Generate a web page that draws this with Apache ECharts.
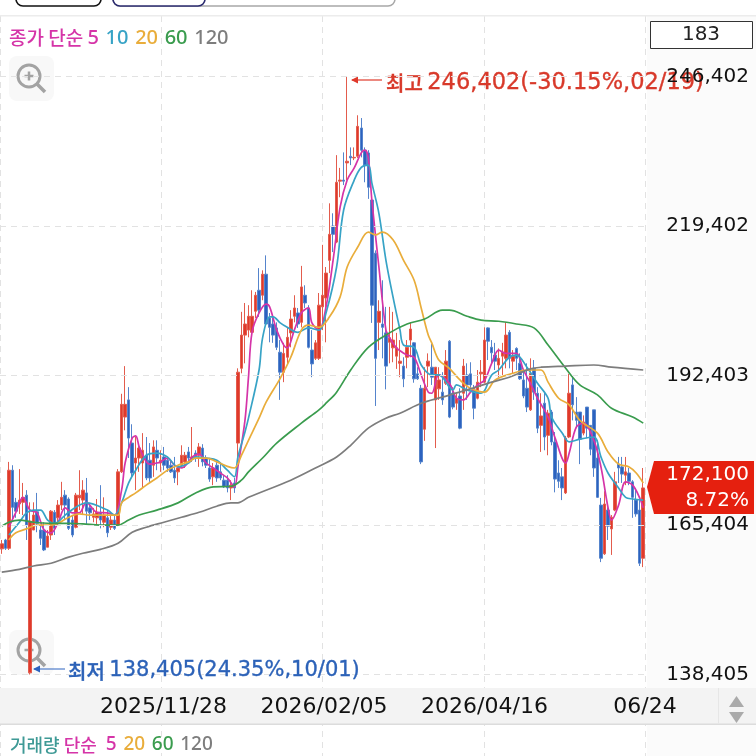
<!DOCTYPE html>
<html><head><meta charset="utf-8">
<style>html,body{margin:0;padding:0;background:#fff}#c{width:756px;height:756px}</style>
<script src="https://cdn.jsdelivr.net/npm/echarts@6/dist/echarts.min.js"></script>
</head><body><div id="c"></div>
<script>
const opens=[161100,162700,161200,175300,169500,169200,169500,170800,138700,164500,167800,164500,164500,161400,163600,167700,166700,169000,170800,170100,166300,165000,170300,169900,171200,168500,166800,166700,167700,165900,166700,165000,166300,165400,175000,184900,188000,180200,176600,177500,176600,178000,177100,176200,178900,176600,177700,177100,176200,175300,175000,176200,176800,178600,177300,178400,178000,179300,177500,175700,174100,176200,175000,173500,173500,172100,173000,180200,193700,199700,200600,200200,204000,207800,206900,210700,202800,201700,201000,196600,193000,195700,200100,203100,203700,202000,206900,204600,197000,195500,195500,204800,206400,213200,219400,216500,227500,227700,230800,232000,231700,232000,237100,233100,232600,224100,214500,202000,201700,200100,198400,197400,195900,194600,194100,195700,198800,198300,192700,190100,182700,194100,193900,188000,190000,189400,191000,198600,189200,187400,188700,189200,192500,192700,189800,188300,192700,191200,201000,197500,196100,194300,195900,195500,200200,195000,197300,194600,191600,190100,186200,193700,189200,183400,187400,181600,185800,180400,174800,174100,171200,181300,190700,185800,185800,182000,186700,183400,186200,177500,169000,160200,168100,164700,168100,176400,175900,174400,174800,173200,169900,168100,159400];
const closes=[162000,161200,175300,168600,167900,169900,170400,165400,166100,167200,165700,163000,160900,163400,167900,164800,169000,170400,169000,164800,163600,170800,170800,171700,167900,167600,167400,167700,166300,167200,164000,166300,164800,175000,187200,187200,181100,174800,177500,179300,178900,173900,173900,179500,177500,177100,176200,175700,175000,173900,175700,178000,178000,177500,177700,177700,179500,176800,176200,173700,175700,173900,173900,172300,172100,172600,172100,193000,199700,201700,203100,203100,206900,204200,210700,201700,201100,199700,197500,193000,196400,199300,202600,204600,201700,208400,205500,197500,194500,198300,205100,206900,210900,217900,217900,227300,227700,227500,231100,231700,231800,237400,233100,230400,226400,205100,195500,204000,201100,194100,199200,198800,197400,195000,191800,197500,200800,191800,191800,176800,190100,195000,192100,193900,191600,188000,195000,184900,186700,188300,182900,194100,190700,190700,186500,191200,193000,198800,198600,196500,195000,195500,196600,199700,195500,195900,195500,191800,188700,186700,192800,189400,182900,185100,181300,185600,180400,173700,173300,172100,181100,189200,187100,184300,180900,184000,182900,179100,175700,170400,159400,169200,165200,166800,173200,175700,174600,175000,173300,170400,167400,158500,172100];
const lows=[160200,160900,160900,166300,166700,167400,167200,162700,138405,164500,164100,161800,160700,161400,162700,163600,165400,168100,166300,164500,163200,164800,168100,167200,165400,166300,165900,165400,164800,165000,163200,164500,164500,165200,174800,182500,177500,174100,171700,175000,172100,173500,173200,174100,175300,175000,175300,175000,174800,173000,172600,175700,175700,176800,176800,176800,175900,176000,175700,173200,172600,173200,173500,172100,171300,169900,171200,176600,192800,194600,199300,199700,202800,203000,206000,201500,198400,198300,197000,188000,191200,194300,197500,202000,201000,201100,204600,197300,192100,195200,195200,200600,198400,210900,214700,216300,224600,226800,227700,230400,231300,231700,231800,227300,224300,201900,186900,197000,195500,189900,194600,194800,193600,192100,190300,193700,195700,191100,191600,176400,180600,190300,190700,179300,188000,187100,190700,184700,186300,186200,182700,186200,188000,190100,184500,188100,190300,191000,195200,194300,193400,192100,192500,193700,193700,192800,193400,191600,188300,185800,186000,188000,182000,178600,178900,178000,179800,171300,172100,169900,171000,181100,184300,182900,176400,181600,181100,178000,174100,170300,158700,160000,162700,160000,167900,173000,173000,172600,172600,166700,166900,158000,157800];
const highs=[162700,162900,176800,176200,170300,175500,173000,171700,169500,169500,171200,165400,165900,164500,168100,168100,169900,173200,171700,170400,167200,171200,175300,173500,173900,169400,168500,170100,172600,170400,168100,167200,167200,175500,189100,194100,190300,183600,181300,180200,182000,181300,180200,180700,180700,178900,179500,177700,177100,177700,175900,179800,178600,179500,183100,178900,180200,180000,178000,177500,176600,176800,176600,174400,174400,173500,173900,193700,203900,205500,205100,207800,207500,211800,211400,214100,203700,202800,202000,198800,198300,201000,204200,206900,204600,212200,208700,205100,200600,198800,207300,216000,212000,223500,221700,232200,229900,232700,246402,233600,233600,239400,238900,233600,233100,224400,215000,206000,209600,204800,204800,203900,200100,198800,195700,198800,202000,198400,193900,190700,193900,196400,198100,193900,193900,193000,197000,198800,190300,189200,190100,195400,194600,194800,190700,193400,195200,201100,201100,198800,198300,197300,198300,202000,200600,197000,197500,196400,193400,194600,195500,195200,190300,189200,189400,186200,186200,182200,177100,175700,181500,192700,192500,188500,185800,185200,186700,183400,186200,180700,170300,171500,168600,167200,175000,177700,177700,177700,175700,173500,172100,169900,175700];

const ma5=[[2,165000],[4,167700],[6,170400],[8,168100],[10,167600],[12,164500],[14,164000],[16,165900],[18,168500],[20,167600],[22,167600],[24,169500],[27,167700],[30,167600],[32,167200],[34,171700],[35,176600],[37,181100],[38,181500],[39,179500],[41,176800],[42,176400],[44,176600],[45,176800],[47,177500],[49,176200],[51,175700],[53,176800],[54,177700],[56,178200],[58,176600],[60,175700],[62,174800],[64,173900],[66,172300],[67,175900],[69,184300],[70,192100],[71,200200],[73,203700],[75,205300],[76,204800],[78,200600],[80,197900],[81,197400],[83,200600],[85,203700],[87,204600],[88,201900],[90,200600],[92,204800],[94,213200],[96,222800],[98,227700],[100,229900],[102,232600],[103,233100],[104,231700],[105,224100],[107,212000],[109,200600],[110,199300],[112,197400],[115,196100],[117,195700],[119,192500],[121,189400],[122,189200],[124,192500],[127,191000],[129,188300],[131,188000],[133,189400],[135,190700],[137,191600],[139,194600],[141,197000],[143,196400],[146,196400],[148,193400],[150,191000],[152,188300],[155,184900],[157,181100],[160,176600],[161,178400],[163,183100],[165,183800],[168,180700],[170,175900],[172,168600],[173,166300],[175,169000],[177,173200],[179,172600],[181,170300],[182,168500]];
const ma10=[[2,163600],[5,165900],[7,167600],[9,168100],[11,168100],[13,166300],[15,165700],[18,167200],[21,168600],[24,169400],[30,168100],[32,167200],[34,169400],[36,173000],[38,175300],[41,178000],[44,178400],[47,177700],[50,175900],[53,176600],[55,177700],[58,177500],[61,177100],[64,175300],[66,174100],[67,177700],[69,182200],[70,184700],[73,193400],[74,199200],[76,203000],[77,203000],[79,201900],[81,201100],[84,200200],[87,201000],[90,200600],[92,203700],[95,212000],[97,222300],[100,227700],[102,230000],[104,230400],[105,227200],[107,221700],[109,213200],[111,206600],[113,200600],[114,197900],[117,197500],[119,194300],[122,192500],[124,192500],[128,189800],[129,190700],[132,189800],[136,189200],[139,192500],[141,193400],[144,195700],[146,196100],[149,193900],[152,191000],[155,188300],[156,184900],[159,182000],[161,180400],[164,180900],[168,181300],[170,177700],[172,174800],[175,172100],[177,170400],[179,170100],[182,169900]];
const ma20=[[2,162700],[4,164000],[7,164700],[10,165400],[14,165400],[16,165700],[19,166800],[22,167400],[25,167200],[30,167200],[33,167200],[34,169400],[36,170400],[38,171200],[41,172600],[44,173900],[47,175300],[50,176200],[53,176800],[55,177500],[58,177500],[61,176800],[64,176000],[66,175700],[68,178000],[70,180700],[73,184700],[75,187600],[79,191900],[82,195700],[85,200600],[87,201500],[90,201100],[93,203000],[96,206600],[98,212000],[101,215600],[104,218300],[106,217800],[108,218300],[111,216900],[114,213200],[117,209600],[119,204600],[121,199700],[122,198300],[124,195200],[127,193700],[130,191600],[133,190100],[137,189400],[140,191600],[145,192800],[149,193400],[153,193400],[155,191200],[158,188300],[161,187100],[164,184300],[169,182000],[172,178600],[175,176400],[178,175900],[180,174800],[182,173000]];
const ma60=[[0,165200],[2,165900],[5,166300],[9,165900],[14,165700],[19,165700],[23,165600],[28,165400],[33,165400],[36,166300],[39,167200],[44,168100],[50,169400],[55,171200],[60,172300],[65,172400],[68,173500],[70,175000],[74,177500],[78,180200],[85,183800],[90,186200],[92,187400],[95,189400],[99,193400],[104,197500],[110,200100],[115,201700],[120,202600],[125,204200],[127,204200],[132,203100],[136,202400],[141,202200],[146,201700],[151,201000],[155,197900],[160,193700],[164,190700],[169,188900],[173,186500],[179,184900],[182,183800]];
const ma120=[[0,156900],[5,157400],[9,158000],[14,158500],[19,159600],[23,160300],[28,161000],[33,162100],[37,164100],[41,165000],[46,165900],[51,166800],[56,167700],[61,168800],[65,169400],[67,169400],[70,170400],[82,173500],[89,175700],[95,177700],[99,179800],[104,182900],[109,184700],[113,185600],[119,187400],[125,188500],[132,189800],[139,191200],[144,192100],[150,193600],[153,193900],[160,194100],[168,194300],[173,193900],[182,193400]];

const categories=opens.map((_,i)=>String(i));
const dateTicks=['','2025/11/28','2026/02/05','2026/04/16','06/24'];
const priceTicks=[138405,165404,192403,219402,246402];
const barCount='183';
const lastPrice='172,100';
const lastPct='8.72%';

const C={ma5:'#d534a8',ma10:'#37a3c6',ma20:'#e9ad3b',ma60:'#3a9c4e',ma120:'#7d7d7d',red:'#e0392b',blue:'#2c62bf'};
const KR='"Noto Sans CJK KR"';
const NUM='"DejaVu Sans"';
const yMin=123686,yMax=257330;

const line=(name,data,color)=>({name,type:'line',data,symbol:'none',smooth:0.35,z:4,xAxisIndex:0,yAxisIndex:0,
  lineStyle:{color,width:1.7},itemStyle:{color},animation:false,silent:true});

const chart=echarts.init(document.getElementById('c'),null,{renderer:'canvas'});
const fill=(s,color,o)=>({type:'text',z:20,style:Object.assign({text:s,fill:color,font:o.font,textAlign:o.align||'left',textVerticalAlign:'middle'}),x:o.x,y:o.y});
const icon=(cy,plus)=>{
  const cx=29,st={stroke:'#a3a3a3',lineWidth:3,fill:'none'};
  const el=[{type:'rect',z:-2,shape:{x:9,y:cy-20,width:45,height:45,r:8},style:{fill:'#f8f8f8'}},
   {type:'circle',z:-1,shape:{cx,cy,r:11},style:st},
   {type:'line',z:-1,shape:{x1:cx+8,y1:cy+8,x2:cx+16,y2:cy+16},style:{stroke:'#a3a3a3',lineWidth:3.5}},
   {type:'line',z:-1,shape:{x1:cx-4.5,y1:cy,x2:cx+4.5,y2:cy},style:{stroke:'#a3a3a3',lineWidth:2.5}}];
  if(plus)el.push({type:'line',z:-1,shape:{x1:cx,y1:cy-4.5,x2:cx,y2:cy+4.5},style:{stroke:'#a3a3a3',lineWidth:2.5}});
  return el;
};
const rs=(fill,font)=>({fill,font,stroke:fill,lineWidth:0.35});
const L='500 20px "Noto Sans"',B='500 19px "Noto Sans"';
const graphics=[
  {type:'rect',z:-3,shape:{x:647,y:16,width:109,height:740},style:{fill:'#fbfbfb'}},
  {type:'rect',z:6,shape:{x:0,y:688,width:756,height:36},style:{fill:'#f3f3f3'}},
  {type:'rect',z:6,shape:{x:0,y:723.5,width:756,height:1.5},style:{fill:'#dcdcdc'}},
  {type:'rect',z:6,shape:{x:718,y:688,width:1,height:36},style:{fill:'#e6e6e6'}},
  {type:'polygon',z:7,shape:{points:[[729,707],[744,707],[736.5,696]]},style:{fill:'#aaaaaa'}},
  {type:'polygon',z:7,shape:{points:[[729,712],[744,712],[736.5,723]]},style:{fill:'#aaaaaa'}},
  {type:'rect',z:6,shape:{x:0,y:0,width:756,height:15},style:{fill:'#ffffff'}},
  {type:'rect',z:6,shape:{x:0,y:15,width:756,height:1.5},style:{fill:'#ececec'}},
  {type:'rect',z:7,shape:{x:113,y:-20,width:282,height:26,r:7},style:{fill:'#fff',stroke:'#a8a8a8',lineWidth:1.5}},
  {type:'rect',z:7,shape:{x:113,y:-20,width:92,height:26,r:7},style:{fill:'#fff',stroke:'#2a2a6e',lineWidth:1.6}},
  {type:'rect',z:7,shape:{x:16,y:-20,width:85,height:26,r:7},style:{fill:'#fff',stroke:'#111',lineWidth:1.6}},
  {type:'rect',z:7,shape:{x:650.5,y:21.5,width:102,height:27},style:{fill:'#fff',stroke:'#333',lineWidth:1}},
  fill(barCount,'#222',{x:701,y:35,align:'center',font:'400 20px '+NUM}),
  {type:'polygon',z:15,shape:{points:[[647,487],[654,461],[754,461],[754,514],[654,514]]},style:{fill:'#e5200f'}},
  fill(lastPrice,'#fff',{x:749,y:475,align:'right',font:'400 20px '+NUM}),
  fill(lastPct,'#fff',{x:749,y:501,align:'right',font:'400 20px '+NUM}),
  {type:'line',z:10,shape:{x1:352,y1:80,x2:382,y2:80},style:{stroke:C.red,lineWidth:1.2}},
  {type:'polygon',z:10,shape:{points:[[351,80],[358,76.5],[358,83.5]]},style:{fill:C.red}},
  {type:'text',z:9,x:386,y:83,style:{rich:{k:rs('#d8392a','500 20px '+KR),n:rs('#d8392a','400 22.5px '+NUM)},text:'{k|최고 }{n|246,402(-30.15%,02/19)}',textVerticalAlign:'middle'}},
  {type:'line',z:10,shape:{x1:34,y1:669,x2:65,y2:669},style:{stroke:C.blue,lineWidth:1}},
  {type:'polygon',z:10,shape:{points:[[33,669],[40,665.5],[40,672.5]]},style:{fill:C.blue}},
  {type:'text',z:20,x:68,y:671,style:{rich:{k:rs('#2c62b8','500 20px '+KR),n:rs('#2c62b8','400 21px '+NUM)},text:'{k|최저 }{n|138,405(24.35%,10/01)}',textVerticalAlign:'middle'}},
  {type:'text',z:20,x:9,y:38,style:{rich:{a:{fill:C.ma5,font:'500 19px '+KR},a2:{fill:C.ma5,font:L},b:{fill:C.ma10,font:L},c:{fill:C.ma20,font:L},d:{fill:C.ma60,font:L},e:{fill:C.ma120,font:L}},text:'{a|종가 단순 }{a2|5}  {b|10}  {c|20}  {d|60}  {e|120}',textVerticalAlign:'middle'}},
  {type:'text',z:20,x:10,y:745,style:{rich:{t:{fill:'#3f9a96',font:'500 18px '+KR},a:{fill:C.ma5,font:'500 18px '+KR},a2:{fill:C.ma5,font:B},c:{fill:C.ma20,font:B},d:{fill:C.ma60,font:B},e:{fill:C.ma120,font:B}},text:'{t|거래량 }{a|단순 }{a2| 5}  {c|20}  {d|60}  {e|120}',textVerticalAlign:'middle'}},
  ...icon(76,true),...icon(650,false)
];
chart.setOption({
  animation:false,backgroundColor:'#ffffff',
  grid:[{left:0,right:111,top:16,bottom:0},{left:0,right:111,top:16,bottom:0}],
  xAxis:[
    {type:'category',data:categories,gridIndex:0,show:false,boundaryGap:true},
    {type:'category',data:dateTicks,gridIndex:0,boundaryGap:false,position:'top',axisLine:{show:false},axisTick:{show:false},axisLabel:{show:false},
      splitLine:{show:true,interval:0,lineStyle:{color:'#e2e2e2',type:[6,5],width:1}}},
    {type:'category',data:dateTicks,gridIndex:1,boundaryGap:false,z:10,axisLine:{show:false},axisTick:{show:false},splitLine:{show:false},
      axisLabel:{show:true,inside:true,interval:0,margin:49,hideOverlap:false,verticalAlign:'middle',color:'#111',fontFamily:NUM,fontSize:22}}
  ],
  yAxis:[
    {type:'value',gridIndex:0,min:yMin,max:yMax,position:'right',axisLine:{show:false},z:12,
     axisTick:{show:false,customValues:priceTicks},
     axisLabel:{show:true,customValues:priceTicks,showMinLabel:true,showMaxLabel:true,align:'right',margin:104,color:'#111',fontFamily:NUM,fontSize:20,formatter:v=>Number(v).toLocaleString('en-US')},
     splitLine:{show:true,lineStyle:{color:'#e2e2e2',type:[6,5],width:1}}},
    {type:'value',gridIndex:1,min:yMin,max:yMax,show:false}
  ],
  series:[
    {name:'candles',type:'candlestick',data:opens.map((o,i)=>[o,closes[i],lows[i],highs[i]]),xAxisIndex:0,yAxisIndex:0,barWidth:3,z:3,silent:true,
     itemStyle:{color:C.red,color0:C.blue,borderColor:'#e35c4d',borderColor0:'#5584cc',borderWidth:1}},
    line('MA5',ma5,C.ma5),line('MA10',ma10,C.ma10),line('MA20',ma20,C.ma20),line('MA60',ma60,C.ma60),line('MA120',ma120,C.ma120)
  ],
  graphic:{elements:graphics}
});
</script></body></html>
